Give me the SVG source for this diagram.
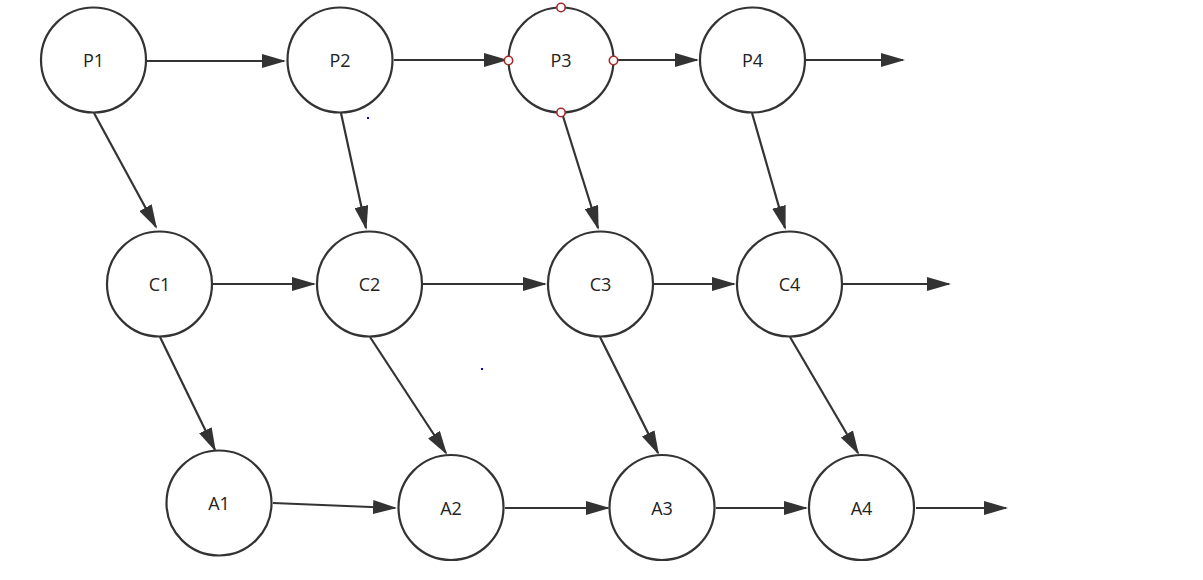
<svg xmlns="http://www.w3.org/2000/svg" width="1203" height="580" viewBox="0 0 1203 580">
<style>
.node circle{fill:#fff;stroke:#333;stroke-width:2.2}
.node text{font-family:"Open Sans","Liberation Sans",sans-serif;font-size:18px;fill:#222;text-anchor:middle;dominant-baseline:central}
.edge{stroke:#333;stroke-width:2.2;fill:none;marker-end:url(#arr)}
.node circle.handle{fill:#fff;stroke:#a52a2a;stroke-width:1.6}
</style>
<defs>
<marker id="arr" viewBox="0 0 24 14" refX="22" refY="7" markerWidth="24" markerHeight="14" markerUnits="userSpaceOnUse" orient="auto">
<path d="M0,0 L24,7 L0,14 z" fill="#333"/>
</marker>
</defs>
<rect width="1203" height="580" fill="#fff"/>
<g id="connectors">
<line class="edge" x1="147" y1="61" x2="284" y2="61"/>
<line class="edge" x1="394" y1="60" x2="506" y2="60"/>
<line class="edge" x1="614" y1="60" x2="697" y2="60"/>
<line class="edge" x1="806" y1="60" x2="903" y2="60"/>
<line class="edge" x1="94" y1="113" x2="156" y2="227"/>
<line class="edge" x1="341" y1="113" x2="366" y2="228"/>
<line class="edge" x1="562" y1="113" x2="598" y2="228"/>
<line class="edge" x1="752" y1="113" x2="785" y2="228"/>
<line class="edge" x1="212" y1="284" x2="314" y2="284"/>
<line class="edge" x1="423" y1="284" x2="545" y2="284"/>
<line class="edge" x1="654" y1="284" x2="734" y2="284"/>
<line class="edge" x1="843" y1="284" x2="949" y2="284"/>
<line class="edge" x1="160" y1="337" x2="215" y2="450"/>
<line class="edge" x1="370" y1="337" x2="446" y2="453"/>
<line class="edge" x1="600" y1="337" x2="658" y2="453"/>
<line class="edge" x1="790" y1="337" x2="858" y2="453"/>
<line class="edge" x1="273" y1="503" x2="395" y2="508"/>
<line class="edge" x1="505" y1="508" x2="608" y2="508"/>
<line class="edge" x1="716" y1="508" x2="806" y2="508"/>
<line class="edge" x1="916" y1="508" x2="1006" y2="508"/>
</g>
<g id="P1" class="node"><circle cx="93.5" cy="60" r="52.5"/><text x="93.5" y="60">P1</text></g>
<g id="P2" class="node"><circle cx="340" cy="60" r="52.5"/><text x="340" y="60">P2</text></g>
<g id="P3" class="node"><circle cx="561" cy="60" r="52.5"/><text x="561" y="60">P3</text>
<circle class="handle" cx="561" cy="7.5" r="4.2"/><circle class="handle" cx="508.5" cy="60.5" r="4.2"/><circle class="handle" cx="613.5" cy="60.5" r="4.2"/><circle class="handle" cx="561" cy="112.5" r="4.2"/></g>
<g id="P4" class="node"><circle cx="752.5" cy="60" r="52.5"/><text x="752.5" y="60">P4</text></g>
<g id="C1" class="node"><circle cx="159.5" cy="284" r="52.5"/><text x="159.5" y="284">C1</text></g>
<g id="C2" class="node"><circle cx="369.5" cy="284" r="52.5"/><text x="369.5" y="284">C2</text></g>
<g id="C3" class="node"><circle cx="600.5" cy="284" r="52.5"/><text x="600.5" y="284">C3</text></g>
<g id="C4" class="node"><circle cx="789.5" cy="284" r="52.5"/><text x="789.5" y="284">C4</text></g>
<g id="A1" class="node"><circle cx="219" cy="503" r="52.5"/><text x="219" y="503">A1</text></g>
<g id="A2" class="node"><circle cx="451" cy="507.5" r="52.5"/><text x="451" y="507.5">A2</text></g>
<g id="A3" class="node"><circle cx="662" cy="507.5" r="52.5"/><text x="662" y="507.5">A3</text></g>
<g id="A4" class="node"><circle cx="861.5" cy="507.5" r="52.5"/><text x="861.5" y="507.5">A4</text></g>
<rect x="367" y="117" width="2" height="2" fill="#0000ee"/>
<rect x="481" y="368" width="2" height="2" fill="#0000ee"/>
</svg>
